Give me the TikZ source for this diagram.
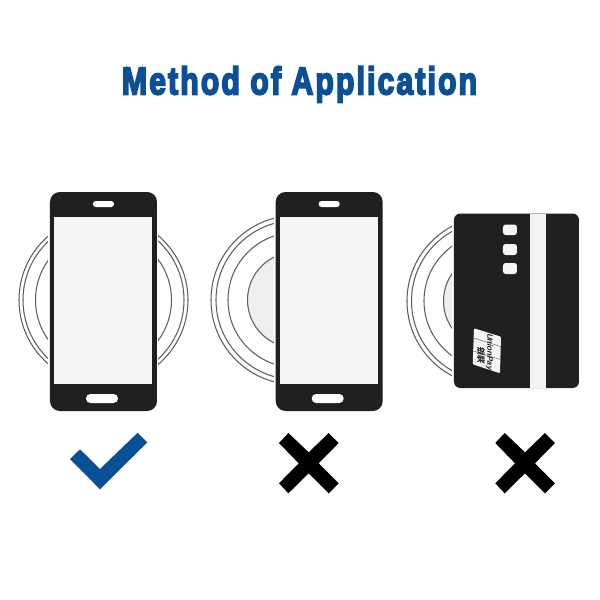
\documentclass[tikz,border=0pt]{standalone}
\usepackage{fontspec}
\setmainfont{Liberation Sans}
\newfontfamily\titlefont[FakeBold=5,LetterSpace=7]{Liberation Sans Bold}
\newfontfamily\cjkfont[FakeBold=1]{Noto Sans CJK SC}
\definecolor{brandblue}{HTML}{0A5096}
\definecolor{bodyblack}{HTML}{202020}
\definecolor{screengrey}{HTML}{F5F5F5}
\definecolor{ringgrey}{HTML}{5E5E5E}
\definecolor{coregrey}{HTML}{EEEEEE}
\tikzset{
  ring/.style={draw=ringgrey,line width=0.6pt,fill=#1},
  ring/.default=white,
  halo/.style={fill=white,draw=none},
  device/.style={fill=bodyblack,draw=none,rounded corners=5.6pt},
  screenpart/.style={fill=screengrey,draw=none},
  pill/.style={fill=white,draw=none,rounded corners=1.6pt},
  keybox/.style={fill=screengrey,draw=none,rounded corners=1.5pt},
  crossmark/.style={fill=black,draw=none},
  tickmark/.style={fill=brandblue,draw=none}
}
\newcommand{\myphone}[1]{%
  \begin{scope}[xshift=#1*0.02cm]
    \fill[halo] (-1.5,190) rectangle (108.5,413);
    \path[device] (0,192) rectangle (107,411);
    \path[screenpart] (4.5,217) rectangle (102.5,383.5);
    \path[pill] (43,201) rectangle (64,207);
    \path[pill,rounded corners=2.5pt] (36,394) rectangle (68,403);
  \end{scope}}
\newcommand{\mycross}[1]{%
  \begin{scope}[xshift=#1*0.02cm]
    \path[crossmark] (-20.3,433) -- (0,452.3) -- (20,433) -- (30,443) -- (10,463.3) -- (30,483.3)
      -- (20,493.3) -- (0,473.3) -- (-20.3,493.3) -- (-29.7,483.3) -- (-10,463.3) -- (-29.7,443) -- cycle;
  \end{scope}}
\begin{document}
\begin{tikzpicture}[x=0.02cm,y=-0.02cm]
\useasboundingbox (0,0) rectangle (600,600);
\fill[white] (0,0) rectangle (600,600);
% title
\begin{scope}[shift={(299.5,94.3)},xscale=.785]
\node[transform shape,text=brandblue,font=\titlefont\fontsize{21.9pt}{24pt}\selectfont,anchor=base,inner sep=0pt] (title) at (0,0) {Method of Application};
\end{scope}
% charger 1
\draw[ring=white] (103.5,300) circle (84.5);
\draw[ring=white] (103.5,300) circle (80.5);
\draw[ring=white] (103.5,300) circle (68);
\myphone{50}
% charger 2
\draw[ring=white] (295.5,300) circle (84.5);
\draw[ring=white] (295.5,300) circle (79.5);
\draw[ring=white] (295.5,300) circle (67.5);
\draw[ring=coregrey] (295.5,300) circle (48);
\myphone{275.7}
% charger 3
\draw[ring=white] (491.5,301) circle (84.5);
\draw[ring=white] (491.5,301) circle (80);
\draw[ring=white] (491.5,301) circle (67.5);
\draw[ring=coregrey] (491.5,301) circle (48);
\fill[halo] (452.2,211) rectangle (581,390);
% card
\path[device,rounded corners=3.6pt] (454,213.5) rectangle (579,388);
\path[screenpart,fill=coregrey!70!white] (530.5,213.5) rectangle (546.5,388);
\path[keybox] (503,224.5) rectangle (517,235);
\path[keybox] (503,244) rectangle (517,255);
\path[keybox] (503,263) rectangle (517,274);
% UnionPay logo
\path[screenpart,rounded corners=0.6pt] (474,328.3) -- (501,336.7) -- (500,373.3) -- (472.7,364.3) -- cycle;
\draw[bodyblack!65,line width=0.3pt] (473.8,338) -- (500.7,346.5);
\draw[bodyblack!65,line width=0.3pt] (473.3,351) -- (500.3,359.5);
\begin{scope}[shift={(489.5,352)},rotate=-90,xslant=.31]
  \node[transform shape,inner sep=0pt,text=bodyblack,font=\bfseries\fontsize{4.5pt}{5pt}\selectfont] (upay) at (0,0) {UnionPay};
\end{scope}
\begin{scope}[shift={(481,355)},rotate=-90,xslant=.31]
  \node[transform shape,inner sep=0pt,text=bodyblack,font=\cjkfont\fontsize{4.6pt}{5pt}\selectfont] (ucn) at (0,0) {银联};
\end{scope}
% marks
\path[tickmark] (70,459) -- (80,449.3) -- (100,469) -- (137.7,432.7) -- (147.3,442.3) -- (100,489.3) -- cycle;
\mycross{308.7}
\mycross{525}
\end{tikzpicture}
\end{document}
